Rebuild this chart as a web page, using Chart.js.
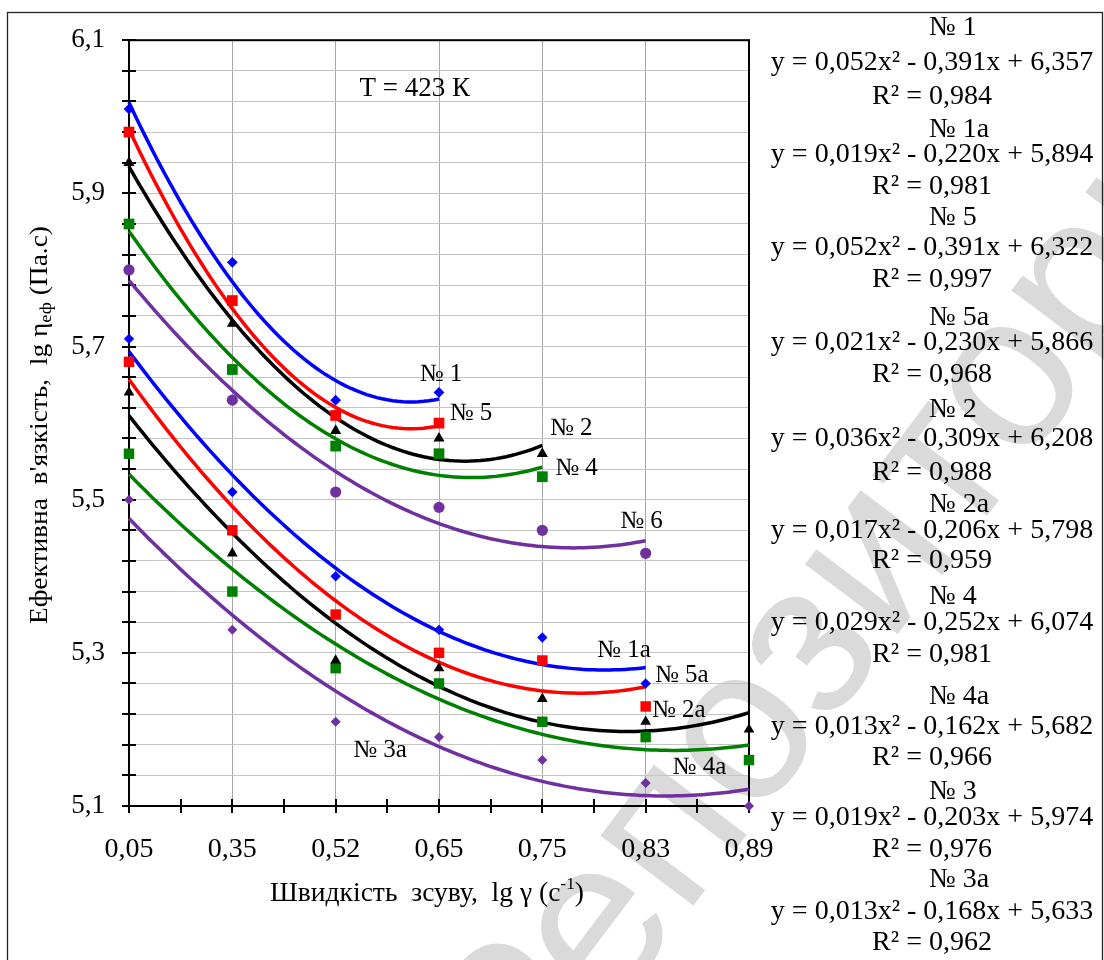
<!DOCTYPE html>
<html>
<head>
<meta charset="utf-8">
<script src="https://cdn.jsdelivr.net/npm/chart.js@4.4.1/dist/chart.umd.min.js"></script>
<style>
  html, body { margin: 0; padding: 0; background: #fff; }
  #chart { display: block; }
</style>
</head>
<body>
<canvas id="chart" width="1104" height="960"></canvas>
<script>
// вісь X: lg γ
const categories = ['0,05', '0,35', '0,52', '0,65', '0,75', '0,83', '0,89'];
const yLabels = ['5,1', '5,3', '5,5', '5,7', '5,9', '6,1'];

// lg ηеф, виміряні точки
const n1  = [6.01, 5.81, 5.63, 5.64];
const n1a = [5.71, 5.51, 5.40, 5.33, 5.32, 5.26];
const n5  = [5.98, 5.76, 5.61, 5.60];
const n5a = [5.68, 5.46, 5.35, 5.30, 5.29, 5.23];
const n2  = [5.94, 5.73, 5.59, 5.58, 5.56];
const n2a = [5.64, 5.43, 5.29, 5.28, 5.24, 5.21, 5.20];
const n4  = [5.86, 5.67, 5.57, 5.56, 5.53];
const n4a = [5.56, 5.38, 5.28, 5.26, 5.21, 5.19, 5.16];
const n3  = [5.80, 5.63, 5.51, 5.49, 5.46, 5.43];
const n3a = [5.50, 5.33, 5.21, 5.19, 5.16, 5.13, 5.10];

// рівняння ліній тренду y = a*x^2 + b*x + c, як вони підписані
const eqNames = ['№ 1', '№ 1а', '№ 5', '№ 5а', '№ 2', '№ 2а', '№ 4', '№ 4а', '№ 3', '№ 3а'];
const eqA  = [0.052, 0.019, 0.052, 0.021, 0.036, 0.017, 0.029, 0.013, 0.019, 0.013];
const eqB  = [-0.391, -0.220, -0.391, -0.230, -0.309, -0.206, -0.252, -0.162, -0.203, -0.168];
const eqC  = [6.357, 5.894, 6.322, 5.866, 6.208, 5.798, 6.074, 5.682, 5.974, 5.633];
const eqR2 = [0.984, 0.981, 0.997, 0.968, 0.988, 0.959, 0.981, 0.966, 0.976, 0.962];

// підписи кривих на полі графіка
const curveNames = ['№ 1', '№ 1а', '№ 5', '№ 5а', '№ 2', '№ 2а', '№ 4', '№ 4а', '№ 6', '№ 3а'];

const points = [n1, n1a, n5, n5a, n2, n2a, n4, n4a, n3, n3a];

const BLUE = '#0000ff', RED = '#ff0000', BLACK = '#000000', GREEN = '#008000', PURPLE = '#7030a0';
const colors = [BLUE, BLUE, RED, RED, BLACK, BLACK, GREEN, GREEN, PURPLE, PURPLE];
const styles = ['rectRot', 'rectRot', 'rect', 'rect', 'triangle', 'triangle', 'rect', 'rect', 'circle', 'rectRot'];
const radii  = [5.4, 5.2, 7.6, 7.4, 6.4, 6.2, 7.6, 7.4, 5.6, 5];

// місця підписів (у координатах осей)
const curveLabelPos = [
  [4.02, 5.663], [5.79, 5.303], [4.31, 5.612], [6.35, 5.270], [5.28, 5.593],
  [6.32, 5.225], [5.33, 5.541], [6.52, 5.151], [5.96, 5.472], [3.43, 5.173]
];

const FONT = '"Liberation Serif", "Times New Roman", serif';

// МНК-парабола по точках (x = 1..n), як лінія тренду в Excel
function quadFit(vals) {
  const s = [0, 0, 0, 0, 0], t = [0, 0, 0];
  vals.forEach((y, k) => {
    const x = k + 1;
    for (let p = 0; p <= 4; p++) s[p] += Math.pow(x, p);
    for (let p = 0; p <= 2; p++) t[p] += y * Math.pow(x, p);
  });
  const m = [
    [s[4], s[3], s[2], t[2]],
    [s[3], s[2], s[1], t[1]],
    [s[2], s[1], s[0], t[0]]
  ];
  for (let i = 0; i < 3; i++) {
    for (let j = i + 1; j < 3; j++) {
      const f = m[j][i] / m[i][i];
      for (let k = i; k < 4; k++) m[j][k] -= f * m[i][k];
    }
  }
  const r = [0, 0, 0];
  for (let i = 2; i >= 0; i--) {
    let v = m[i][3];
    for (let k = i + 1; k < 3; k++) v -= m[i][k] * r[k];
    r[i] = v / m[i][i];
  }
  return r; // [a, b, c]
}

const datasets = [];
points.forEach((vals, i) => {
  const [a, b, c] = quadFit(vals);
  const trend = [];
  for (let x = 1; x <= vals.length + 1e-9; x += 0.05) {
    trend.push({ x: x, y: a * x * x + b * x + c });
  }
  datasets.push({
    label: eqNames[i] + ' тренд',
    data: trend,
    showLine: true,
    borderColor: colors[i],
    borderWidth: 3.5,
    pointRadius: 0,
    tension: 0,
    clip: false,
    order: 2
  });
  datasets.push({
    label: eqNames[i],
    data: vals.map((v, k) => ({ x: k + 1, y: v })),
    showLine: false,
    pointStyle: styles[i],
    pointRadius: radii[i],
    pointBackgroundColor: colors[i],
    pointBorderColor: colors[i],
    pointBorderWidth: 0,
    clip: false,
    order: 1
  });
});

const yTicks = [];
for (let k = 0; k <= 25; k++) yTicks.push(5.1 + k * 0.04);

function fmt(v) { return v.toFixed(3).replace('.', ','); }

// текст зі шматків (індекси), центр у (cx, cy); len - потрібна довжина
function drawParts(c, parts, cx, cy, len) {
  let total = 0;
  parts.forEach(p => { c.font = p.size + 'px ' + FONT; p.w = c.measureText(p.t).width; total += p.w; });
  const k = len ? len / total : 1;
  c.save();
  c.translate(cx, cy);
  c.scale(k, 1);
  let x = -total / 2;
  parts.forEach(p => {
    c.font = p.size + 'px ' + FONT;
    c.fillText(p.t, x, p.dy || 0);
    x += p.w;
  });
  c.restore();
}

const decor = {
  id: 'decor',
  beforeDraw(chart) {
    const c = chart.ctx;
    c.save();
    c.fillStyle = '#fff';
    c.fillRect(0, 0, chart.width, chart.height);
    // водяний знак
    c.translate(528, 1125);
    c.rotate(-53 * Math.PI / 180);
    c.font = '220px "Liberation Sans", Arial, sans-serif';
    c.fillStyle = '#dadada';
    c.fillText('Репозиторий БНТУ', 0, 0);
    c.restore();
  },
  beforeDatasetsDraw(chart) {
    const c = chart.ctx;
    const ca = chart.chartArea;
    const xs = chart.scales.x, ys = chart.scales.y;
    c.save();
    // рамка поля графіка
    c.strokeStyle = '#000';
    c.lineWidth = 2;
    c.strokeRect(ca.left, ca.top, ca.right - ca.left, ca.bottom - ca.top);

    // риски на осях (перетинають вісь)
    c.beginPath();
    yTicks.forEach(v => {
      const y = Math.round(ys.getPixelForValue(v));
      c.moveTo(ca.left - 7, y); c.lineTo(ca.left + 7, y);
    });
    for (let x = 1; x <= 7; x += 0.5) {
      const px = Math.round(xs.getPixelForValue(x));
      c.moveTo(px, ca.bottom - 7); c.lineTo(px, ca.bottom + 7);
    }
    c.stroke();
    c.restore();
  },
  afterDraw(chart) {
    const c = chart.ctx;
    const ca = chart.chartArea;
    const xs = chart.scales.x, ys = chart.scales.y;
    c.save();
    c.fillStyle = '#000';
    c.textBaseline = 'middle';

    // підписи кривих
    c.font = '25px ' + FONT;
    c.textAlign = 'center';
    curveNames.forEach((t, i) => {
      const p = curveLabelPos[i];
      c.fillText(t, xs.getPixelForValue(p[0]), ys.getPixelForValue(p[1]));
    });
    c.font = '27px ' + FONT;
    c.textAlign = 'left';
    c.fillText('T = 423 К', xs.getPixelForValue(3.23), ys.getPixelForValue(6.036));

    // рівняння ліній тренду
    const nameY = [28, 130, 218, 318, 410, 505, 597, 697, 792, 880];
    const eqY   = [63, 155, 248, 343, 439, 531, 623, 727, 818, 912];
    const r2Y   = [97, 187, 280, 375, 473, 561, 655, 758, 850, 943];
    c.font = '28px ' + FONT;
    eqNames.forEach((t, i) => {
      c.textAlign = 'left';
      c.fillText(t, 929, nameY[i]);
      c.textAlign = 'center';
      c.fillText('y = ' + fmt(eqA[i]) + 'x² - ' + fmt(-eqB[i]) + 'x + ' + fmt(eqC[i]), 932, eqY[i]);
      c.fillText('R² = ' + fmt(eqR2[i]), 932, r2Y[i]);
    });

    // назви осей
    c.textAlign = 'left';
    drawParts(c, [
      { t: 'Швидкість  зсуву,  lg γ (с', size: 27 },
      { t: '-1', size: 17, dy: -9 },
      { t: ')', size: 27 }
    ], 427, 894, 314);

    c.translate(40, (ca.top + ca.bottom) / 2 + 2);
    c.rotate(-Math.PI / 2);
    drawParts(c, [
      { t: "Ефективна  в'язкість,  lg η", size: 25 },
      { t: 'еф', size: 17, dy: 7 },
      { t: ' (Па.с)', size: 25 }
    ], 0, 0, 398);
    c.restore();

    // зовнішня рамка
    c.save();
    c.strokeStyle = '#222';
    c.lineWidth = 1.3;
    c.strokeRect(7.5, 12.5, 1095, 1000);
    c.restore();
  }
};

new Chart(document.getElementById('chart'), {
  type: 'scatter',
  data: { datasets: datasets },
  options: {
    responsive: false,
    animation: false,
    layout: { padding: { left: 0, top: 38, right: 355, bottom: 0 } },
    plugins: { legend: { display: false }, tooltip: { enabled: false } },
    scales: {
      x: {
        type: 'linear',
        min: 1,
        max: 7,
        afterBuildTicks: s => { s.ticks = categories.map((c, i) => ({ value: i + 1 })); },
        afterFit: s => { s.height = 154; },
        ticks: {
          autoSkip: false,
          maxRotation: 0,
          padding: 27,
          color: '#000',
          font: { family: FONT, size: 28 },
          callback: v => categories[Math.round(v) - 1]
        },
        grid: { color: '#a6a6a6', lineWidth: 1, drawTicks: false },
        border: { display: false }
      },
      y: {
        min: 5.1,
        max: 6.1,
        afterBuildTicks: s => { s.ticks = yTicks.map(v => ({ value: v })); },
        afterFit: s => { s.width = 129; },
        ticks: {
          autoSkip: false,
          padding: 24,
          color: '#000',
          font: { family: FONT, size: 27 },
          callback: (v, i) => (i % 5 === 0 ? yLabels[i / 5] : '')
        },
        grid: { color: '#c4c4c4', lineWidth: 1, drawTicks: false },
        border: { display: false }
      }
    }
  },
  plugins: [decor]
});
</script>
</body>
</html>
